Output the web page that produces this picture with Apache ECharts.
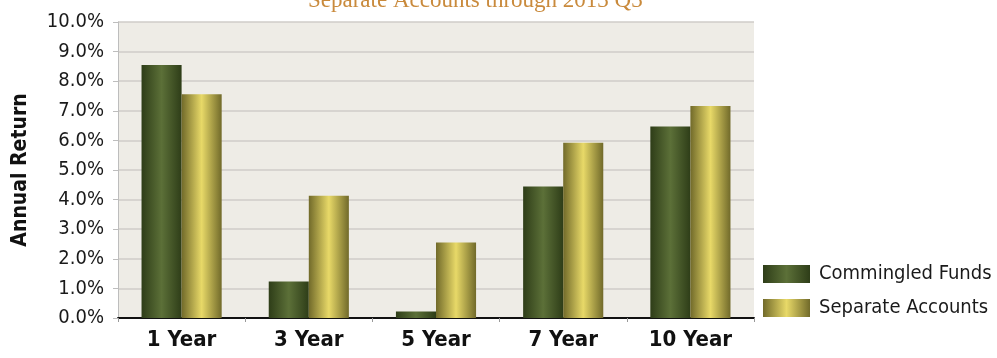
<!DOCTYPE html>
<html>
<head>
<meta charset="utf-8">
<script src="https://cdn.jsdelivr.net/npm/echarts@6/dist/echarts.min.js"></script>
<style>
  html, body { margin: 0; padding: 0; background: #ffffff; }
  #chart { width: 997px; height: 358px; }
</style>
</head>
<body>
<div id="chart"></div>
<script>
// Annualized returns by horizon
const categories = ['1 Year', '3 Year', '5 Year', '7 Year', '10 Year'];
const commingledFunds = [8.55, 1.23, 0.22, 4.44, 6.47];
const separateAccounts = [7.56, 4.13, 2.55, 5.92, 7.16];
const seriesNames = ['Commingled Funds', 'Separate Accounts'];
const chartTitle = 'Separate Accounts through 2013 Q3';
const yAxisTitle = 'Annual Return';

const narrow = '"DejaVu Sans Condensed", "Liberation Sans Narrow", "Liberation Sans", sans-serif';

function hGrad(edge, mid) {
  return new echarts.graphic.LinearGradient(0, 0, 1, 0, [
    { offset: 0, color: edge },
    { offset: 0.5, color: mid },
    { offset: 1, color: edge }
  ]);
}

const greenFill = hGrad('#2e3d18', '#5c7038');
const goldFill = hGrad('#716a2a', '#e8d968');

const chart = echarts.init(document.getElementById('chart'));
chart.setOption({
  backgroundColor: '#ffffff',
  animation: false,
  title: {
    text: chartTitle,
    left: 303,
    top: -16,
    textStyle: {
      fontFamily: '"Liberation Serif", "DejaVu Serif", serif',
      fontSize: 23,
      fontWeight: 'normal',
      color: '#c98a3c'
    }
  },
  legend: {
    orient: 'vertical',
    left: 758,
    top: 259,
    itemWidth: 47,
    itemHeight: 18,
    itemGap: 14,
    icon: 'rect',
    textStyle: { fontFamily: narrow, fontSize: 20, color: '#1a1a1a', padding: [0, 0, 0, 4] },
    data: seriesNames
  },
  grid: {
    left: 118,
    right: 243,
    top: 22,
    bottom: 40,
    show: true,
    backgroundColor: '#eeece6',
    borderWidth: 0
  },
  xAxis: {
    type: 'category',
    data: categories,
    axisLine: { lineStyle: { color: '#111111', width: 2 } },
    axisTick: { show: true, length: 4, lineStyle: { color: '#999999' } },
    axisLabel: {
      margin: 11,
      fontFamily: narrow,
      fontWeight: 'bold',
      fontSize: 22,
      color: '#111111'
    }
  },
  yAxis: {
    type: 'value',
    min: 0,
    max: 10,
    interval: 1,
    name: yAxisTitle,
    nameLocation: 'middle',
    nameRotate: 90,
    nameGap: 87,
    nameTextStyle: { fontFamily: narrow, fontWeight: 'bold', fontSize: 21, color: '#111111' },
    axisLine: { show: true, lineStyle: { color: '#bdbdbd' } },
    axisTick: { show: true, length: 5, lineStyle: { color: '#bdbdbd' } },
    splitLine: { lineStyle: { color: '#cfcdc8', width: 1.5 } },
    axisLabel: {
      margin: 14,
      fontFamily: narrow,
      fontSize: 20,
      color: '#1a1a1a',
      formatter: v => v.toFixed(1) + '%'
    }
  },
  series: [
    {
      name: seriesNames[0],
      type: 'bar',
      data: commingledFunds,
      barGap: '0%',
      barCategoryGap: '37%',
      itemStyle: { color: greenFill }
    },
    {
      name: seriesNames[1],
      type: 'bar',
      data: separateAccounts,
      itemStyle: { color: goldFill }
    }
  ]
});
</script>
</body>
</html>
